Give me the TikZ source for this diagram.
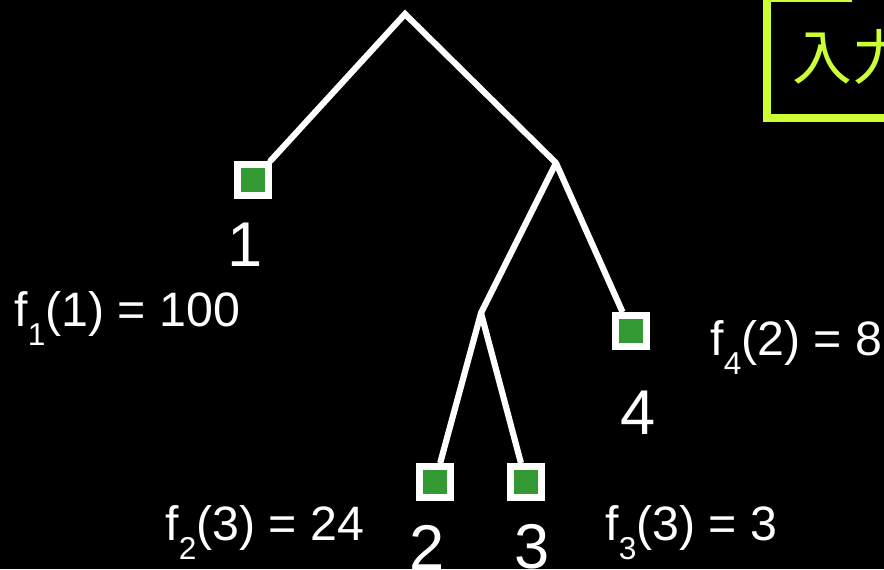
\documentclass[tikz,border=0pt]{standalone}
\usepackage{fontspec}
\setmainfont{Liberation Sans}
\newfontfamily\cjk{Noto Sans CJK JP}
\usetikzlibrary{positioning}
\definecolor{leafgreen}{HTML}{339933}
\definecolor{lime}{HTML}{CCFF33}
\newcommand{\fval}[3]{f\raisebox{-0.75ex}{\fontsize{18}{18}\selectfont #1}(#2) = #3}
\tikzset{
    leaf/.style={rectangle, draw=white, line width=4.2pt, fill=leafgreen,
        minimum size=0.61cm, inner sep=0pt},
    branch/.style={white, line width=3.5pt},
    num/.style={white, font=\fontsize{36}{36}\selectfont, inner sep=0pt},
    fval/.style={white, font=\fontsize{27.5}{27.5}\selectfont, inner sep=0pt, anchor=base west}
}
\begin{document}
\begin{tikzpicture}[x=0.02cm, y=-0.02cm]
\fill[black] (0,0) rectangle (884,569);
\useasboundingbox (0,0) rectangle (884,569);
\begin{scope}
\clip (0,0) rectangle (884,569);
% input box, cut off at the corner
\draw[lime, line width=4.5pt] (767,1) -- (767,118) -- (900,118);
\draw[lime, line width=1.6pt] (763,1) -- (852,1);
\node[lime, font=\cjk\fontsize{34}{34}\selectfont, anchor=west, inner sep=0pt] (input) at (792,57) {入力};
\end{scope}

% tree
\coordinate (root) at (405,14);
\coordinate (right) at (556,163);
\coordinate (mid) at (481,313);
\node[leaf] (l1) at (253,180) {};
\node[leaf] (l4) at (631,331) {};
\node[leaf] (l2) at (435,482) {};
\node[leaf] (l3) at (526,482) {};
\draw[branch, line cap=round] (l1) -- (root) -- (right);
\draw[branch] (right) -- (l4);
\draw[branch] (right) -- (mid) -- (l2);
\draw[branch] (mid) -- (l3);

% leaf numbers
\node[num] (n1) at (245,245) {1};
\node[num] (n4) at (638,413) {4};
\node[num] (n2) at (427,547) {2};
\node[num] (n3) at (532,547) {3};

% values
\node[fval] (v1) at (14,326) {\fval{1}{1}{100}};
\node[fval] (v4) at (710,355) {\fval{4}{2}{8}};
\node[fval] (v2) at (165,540) {\fval{2}{3}{24}};
\node[fval] (v3) at (605,540) {\fval{3}{3}{3}};
\end{tikzpicture}
\end{document}
